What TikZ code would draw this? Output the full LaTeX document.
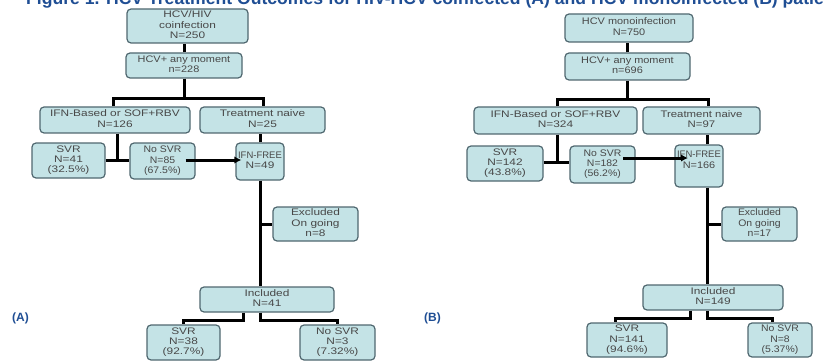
\documentclass[tikz,border=0pt]{standalone}
\usepackage{fontspec}
\setmainfont{Liberation Sans}
\usetikzlibrary{arrows.meta}
\definecolor{boxfill}{RGB}{196,227,230}
\definecolor{boxline}{RGB}{80,104,112}
\definecolor{boxtext}{RGB}{72,72,72}
\definecolor{titleblue}{RGB}{31,78,148}
\newcommand{\bxt}[2][1.25]{\scalebox{#1}[1]{\begin{tabular}{@{}c@{}}#2\end{tabular}}}
\newcommand{\wdl}[2][1.25]{\scalebox{#1}[1]{#2}}
\begin{document}
\begin{tikzpicture}[x=1pt,y=-1pt,
  cbox/.style={draw=boxline, fill=boxfill, line width=1.2pt, rounded corners=4pt,
    inner sep=0pt, text=boxtext, font=\fontsize{9.5}{10.3}\selectfont},
  conn/.style={line width=3pt, draw=black},
  arr/.style={conn, -{Latex[length=7pt,width=7.5pt]}},
  lbl/.style={text=titleblue, font=\bfseries\fontsize{12}{14}\selectfont, inner sep=0pt}]
\useasboundingbox (0,0) rectangle (823,361);
\clip (0,0) rectangle (823,361);
\fill[white] (0,0) rectangle (823,361);

% title (clipped at the top)
\node[anchor=base west, text=titleblue, inner sep=0pt,
  font=\bfseries\fontsize{17.6}{20}\selectfont] (title) at (26,4.5)
  {Figure 1. HCV Treatment Outcomes for HIV-HCV coinfected (A) and HCV monoinfected (B) patients};

% ---------------- Panel A ----------------
\node[cbox, minimum width=121pt, minimum height=34pt] (a1) at (187.5,26) {\bxt{HCV/HIV\\coinfection\\N=250}};
\node[cbox, minimum width=116pt, minimum height=25pt] (a2) at (184,65.5) {\bxt[1.15]{HCV+ any moment\\n=228}};
\node[cbox, minimum width=150pt, minimum height=26pt] (a3) at (115,120) {\bxt{IFN-Based or SOF+RBV\\N=126}};
\node[cbox, minimum width=125pt, minimum height=26pt] (a4) at (262.5,120) {\bxt{Treatment naive\\N=25}};
\node[cbox, minimum width=73pt, minimum height=35pt] (a5) at (68.5,160.5) {\bxt{SVR\\N=41\\(32.5\%)}};
\node[cbox, minimum width=65pt, minimum height=36pt] (a6) at (162.5,161) {\bxt[1.1]{No SVR\\N=85\\(67.5\%)}};
\node[cbox, minimum width=48pt, minimum height=37pt] (a7) at (260,161.5)
  {\begin{tabular}{@{}c@{}}\wdl[1]{IFN-FREE}\\\wdl{N=49}\\ \end{tabular}};
\node[cbox, minimum width=85pt, minimum height=34pt] (a8) at (315.5,224) {\bxt{Excluded\\On going\\n=8}};
\node[cbox, minimum width=134pt, minimum height=25pt] (a9) at (267,299.5) {\bxt{Included\\N=41}};
\node[cbox, minimum width=73pt, minimum height=35pt] (a10) at (183.5,342.5) {\bxt{SVR\\N=38\\(92.7\%)}};
\node[cbox, minimum width=75pt, minimum height=35pt] (a11) at (337.5,342.5) {\bxt{No SVR\\N=3\\(7.32\%)}};

\coordinate (ja1) at (113,99);
\coordinate (ja2) at (263,99);
\coordinate (ta) at (117,160);
\coordinate (la) at (243,320);
\coordinate (ra) at (260,320);

\draw[conn] (a2.north) -- (a2.north |- a1.south);
\draw[conn] (a2.south) -- (a2.south |- ja1);
\draw[conn] (a3.north -| ja1) -- (ja1) -- (ja2) -- (a4.north -| ja2);
\draw[conn] (a3.south -| ta) -- (ta);
\draw[conn] (a5.east |- ta) -- (a6.west |- ta);
\draw[arr] ([xshift=-10pt]a6.east |- ta) -- ([xshift=6pt]a7.west |- ta);
\draw[conn] (a7.north) -- (a7.north |- a4.south);
\draw[conn] (a7.south) -- (a7.south |- a9.north);
\draw[conn] (a7.south |- a8.west) -- (a8.west);
\draw[conn] (a9.south -| la) -- (la) -| (a10.north);
\draw[conn] (a9.south -| ra) -- (ra) -| (a11.north);

\node[lbl] (labA) at (20.5,318) {(A)};

% ---------------- Panel B ----------------
\node[cbox, minimum width=128pt, minimum height=28pt] (b1) at (629,28) {\bxt[1.15]{HCV monoinfection\\N=750}};
\node[cbox, minimum width=125pt, minimum height=27pt] (b2) at (627.5,66.5) {\bxt[1.15]{HCV+ any moment\\n=696}};
\node[cbox, minimum width=163pt, minimum height=27pt] (b3) at (555.5,120.5) {\bxt{IFN-Based or SOF+RBV\\N=324}};
\node[cbox, minimum width=117pt, minimum height=27pt] (b4) at (701.5,120.5) {\bxt[1.2]{Treatment naive\\N=97}};
\node[cbox, minimum width=76pt, minimum height=35pt] (b5) at (505,163.5) {\bxt{SVR\\N=142\\(43.8\%)}};
\node[cbox, minimum width=65pt, minimum height=37pt] (b6) at (602.5,164.5) {\bxt[1.1]{No SVR\\N=182\\(56.2\%)}};
\node[cbox, minimum width=48pt, minimum height=42pt] (b7) at (699,166)
  {\begin{tabular}{@{}c@{}}\wdl[1]{IFN-FREE}\\\wdl[1.15]{N=166}\\ \\ \end{tabular}};
\node[cbox, minimum width=75pt, minimum height=34pt] (b8) at (759.5,224) {\bxt[1.1]{Excluded\\On going\\n=17}};
\node[cbox, minimum width=140pt, minimum height=25pt] (b9) at (713,297.5) {\bxt{Included\\N=149}};
\node[cbox, minimum width=80pt, minimum height=34pt] (b10) at (627,340) {\bxt{SVR\\N=141\\(94.6\%)}};
\node[cbox, minimum width=64pt, minimum height=34pt] (b11) at (780,340) {\bxt[1.1]{No SVR\\N=8\\(5.37\%)}};

\coordinate (jb1) at (557,100);
\coordinate (jb2) at (708,100);
\coordinate (tb) at (557,162);
\coordinate (ab) at (623,158);
\coordinate (vb) at (707,200);
\coordinate (lb) at (690,318);
\coordinate (rb) at (707,318);
\coordinate (lbx) at (615,330);
\coordinate (rbx) at (772,330);

\draw[conn] (b2.north) -- (b2.north |- b1.south);
\draw[conn] (b2.south) -- (b2.south |- jb1);
\draw[conn] (b3.north -| jb1) -- (jb1) -- (jb2) -- (b4.north -| jb2);
\draw[conn] (b3.south -| tb) -- (tb);
\draw[conn] (b5.east |- tb) -- (b6.west |- tb);
\draw[arr] (ab) -- ([xshift=-11pt]b7.center |- ab);
\draw[conn] (b7.north -| vb) -- (b4.south -| vb);
\draw[conn] (b7.south -| vb) -- (b9.north -| vb);
\draw[conn] (b8.west -| vb) -- (b8.west);
\draw[conn] (b9.south -| lb) -- (lb) -| (b10.north -| lbx);
\draw[conn] (b9.south -| rb) -- (rb) -| (b11.north -| rbx);

\node[lbl] (labB) at (432.5,318) {(B)};
\end{tikzpicture}
\end{document}
